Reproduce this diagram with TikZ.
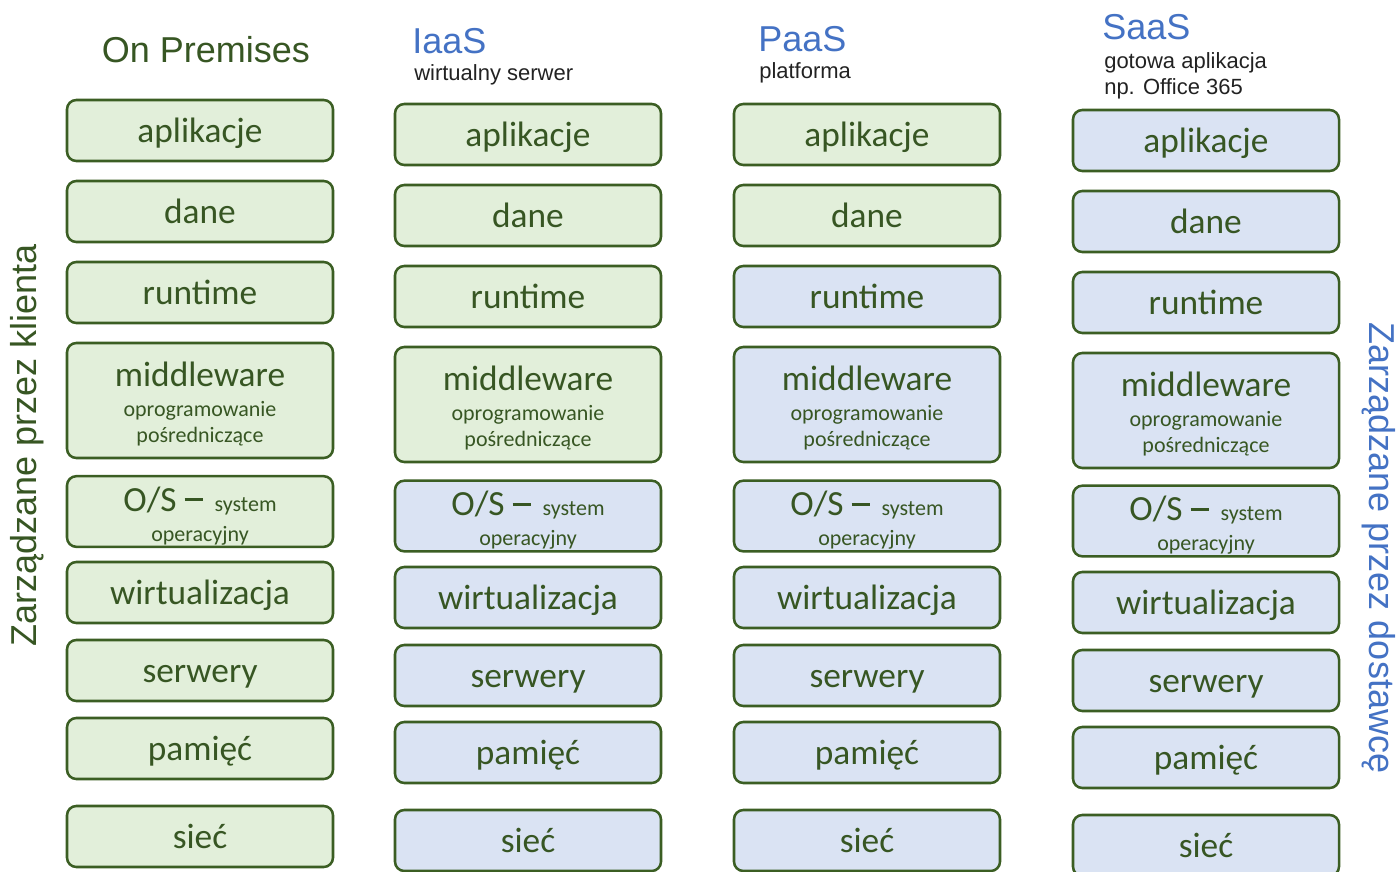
\documentclass[tikz,border=0pt]{standalone}
\usepackage{fontspec}
\setmainfont{Carlito}
\newfontfamily\headfont{Liberation Sans}
\usepackage{tikz}
\usetikzlibrary{positioning}
\usetikzlibrary{calc}

\definecolor{leafgreen}{HTML}{E2EFDA}
\definecolor{skyblue}{HTML}{DAE3F3}
\definecolor{edgegreen}{HTML}{3B5E23}
\definecolor{textgreen}{HTML}{375623}
\definecolor{headblue}{HTML}{4472C4}
\definecolor{subgray}{HTML}{222222}

\newcommand{\bigtxt}{\fontsize{26.5}{30}\selectfont}
\newcommand{\smalltxt}{\fontsize{16.5}{19.5}\selectfont}
\newcommand{\mwtext}{\rule{0pt}{24pt}middleware\\[-7.25pt]{\smalltxt oprogramowanie}\\[-10.5pt]{\smalltxt pośredniczące}}
\newcommand{\ostext}{\rule{0pt}{25pt}O/S\hspace{6pt}\rule[7.5pt]{13.5pt}{2.4pt}\hspace{9pt}{\smalltxt system}\\[-7.5pt]{\smalltxt operacyjny}}

\begin{document}
\begin{tikzpicture}[x=0.75pt, y=-0.75pt, box/.style = {rectangle, rounded corners=7pt, draw=edgegreen, line width=1.9pt, text=textgreen, minimum width=199.5pt, minimum height=45.75pt, inner sep=0pt, align=center, font=\bigtxt}, greenbox/.style = {box, fill=leafgreen}, bluebox/.style = {box, fill=skyblue}, oneline/.style = {text height=22pt, text depth=4pt}, tallbox/.style = {minimum height=86.25pt}, osbox/.style = {minimum height=53pt}, head/.style = {font=\headfont\fontsize{27}{30}\selectfont, inner sep=0pt}, sub/.style = {font=\headfont\fontsize{16.5}{19.5}\selectfont, text=subgray, inner sep=0pt, align=left}]
	\useasboundingbox (0,0) rectangle (1399,871);
	% titles
	\node[head, text=textgreen, anchor=base] (prem) at (206,62) {On Premises};
	\node[head, text=headblue, anchor=base west] (iaas) at (412,53) {IaaS};
	\node[sub, anchor=base west] (iaassub) at (414,80) {wirtualny serwer};
	\node[head, text=headblue, anchor=base west] (paas) at (758,51) {PaaS};
	\node[sub, anchor=base west] (paassub) at (759,78) {platforma};
	\node[head, text=headblue, anchor=base west] (saas) at (1102,39) {SaaS};
	\node[sub, anchor=base west] (saassub1) at (1104,68) {gotowa aplikacja};
	\node[sub, anchor=base west] (saassub2) at (1104,94) {np. Office 365};
	% side labels
	\node[head, text=textgreen, rotate=90] (client) at (27,445) {Zarządzane przez klienta};
	\node[head, text=headblue, rotate=-90] (vendor) at (1379,548) {Zarządzane przez dostawcę};
	% On Premises
	\node[greenbox, oneline] (p1) at (200,130.5) {aplikacje};
	\node[greenbox, oneline] (p2) at (200,211.5) {dane};
	\node[greenbox, oneline] (p3) at (200,292.5) {runtime};
	\node[greenbox, tallbox] (p4) at (200,400.5) {\mwtext};
	\node[greenbox, osbox] (p5) at (200,511.5) {\ostext};
	\node[greenbox, oneline] (p6) at (200,592.5) {wirtualizacja};
	\node[greenbox, oneline] (p7) at (200,670.5) {serwery};
	\node[greenbox, oneline] (p8) at (200,748.5) {pamięć};
	\node[greenbox, oneline] (p9) at (200,836.5) {sieć};
	% IaaS
	\node[greenbox, oneline] (i1) at (528,134.5) {aplikacje};
	\node[greenbox, oneline] (i2) at (528,215.5) {dane};
	\node[greenbox, oneline] (i3) at (528,296.5) {runtime};
	\node[greenbox, tallbox] (i4) at (528,404.5) {\mwtext};
	\node[bluebox, osbox] (i5) at (528,516) {\ostext};
	\node[bluebox, oneline] (i6) at (528,597.5) {wirtualizacja};
	\node[bluebox, oneline] (i7) at (528,675.5) {serwery};
	\node[bluebox, oneline] (i8) at (528,752.5) {pamięć};
	\node[bluebox, oneline] (i9) at (528,840.5) {sieć};
	% PaaS
	\node[greenbox, oneline] (pa1) at (867,134.5) {aplikacje};
	\node[greenbox, oneline] (pa2) at (867,215.5) {dane};
	\node[bluebox, oneline] (pa3) at (867,296.5) {runtime};
	\node[bluebox, tallbox] (pa4) at (867,404.5) {\mwtext};
	\node[bluebox, osbox] (pa5) at (867,516) {\ostext};
	\node[bluebox, oneline] (pa6) at (867,597.5) {wirtualizacja};
	\node[bluebox, oneline] (pa7) at (867,675.5) {serwery};
	\node[bluebox, oneline] (pa8) at (867,752.5) {pamięć};
	\node[bluebox, oneline] (pa9) at (867,840.5) {sieć};
	% SaaS
	\node[bluebox, oneline] (s1) at (1206,140.5) {aplikacje};
	\node[bluebox, oneline] (s2) at (1206,221.5) {dane};
	\node[bluebox, oneline] (s3) at (1206,302.5) {runtime};
	\node[bluebox, tallbox] (s4) at (1206,410.5) {\mwtext};
	\node[bluebox, osbox] (s5) at (1206,521) {\ostext};
	\node[bluebox, oneline] (s6) at (1206,602.5) {wirtualizacja};
	\node[bluebox, oneline] (s7) at (1206,680.5) {serwery};
	\node[bluebox, oneline] (s8) at (1206,757.5) {pamięć};
	\node[bluebox, oneline] (s9) at (1206,845.5) {sieć};
\end{tikzpicture}
\end{document}
